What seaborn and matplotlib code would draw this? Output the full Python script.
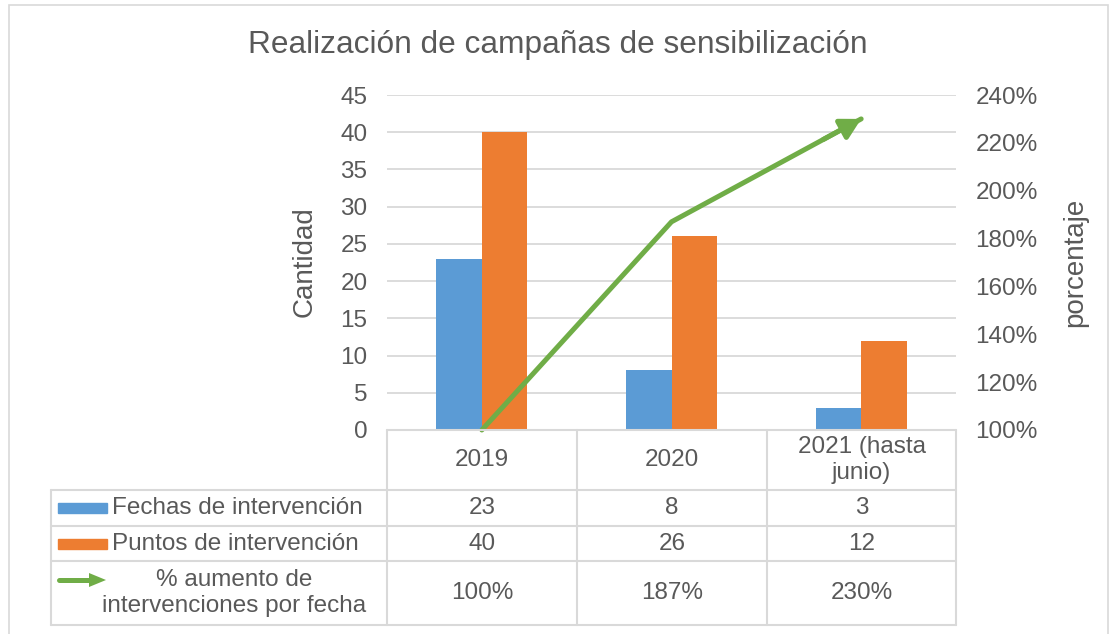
import matplotlib
matplotlib.use("Agg")
import matplotlib.pyplot as plt
from matplotlib.patches import Rectangle, FancyArrow
from matplotlib.lines import Line2D
import pandas as pd
import seaborn as sns

# data
years = ["2019", "2020", "2021 (hasta\njunio)"]
fechas = [23, 8, 3]
puntos = [40, 26, 12]
aumento = [100, 187, 230]
fechas_label = "Fechas de intervención"
puntos_label = "Puntos de intervención"
aumento_label = "% aumento de\nintervenciones por fecha"

BLUE = "#5B9BD5"
ORANGE = "#ED7D31"
GREEN = "#70AD47"
TXT = "#595959"
GRID = "#D9D9D9"
FS = 17.5

sns.set_theme(style="white")
plt.rcParams["font.family"] = ["Liberation Sans", "DejaVu Sans"]

W, H = 1110, 634
fig = plt.figure(figsize=(W / 100, H / 100), dpi=100)


def fx(x):
    return x / W


def fy(y):
    return 1 - y / H


# outer chart frame
fig.patches.append(Rectangle((fx(9), fy(640)), fx(1108) - fx(9), fy(5) - fy(640),
                             transform=fig.transFigure, fill=False,
                             edgecolor=GRID, lw=1.2))

ax = fig.add_axes([fx(387), fy(430), fx(956) - fx(387), fy(95) - fy(430)])

df = pd.DataFrame({
    "year": years * 2,
    "value": fechas + puntos,
    "serie": [fechas_label] * 3 + [puntos_label] * 3,
})
sns.barplot(data=df, x="year", y="value", hue="serie", ax=ax,
            palette=[BLUE, ORANGE], width=0.48, saturation=1,
            legend=False, linewidth=0, zorder=3)
ax.set_xlim(-0.5, 2.5)
ax.set_ylim(0, 45)
ax.set_yticks(range(0, 46, 5))
ax.set_xticks([])
ax.set_xlabel("")
ax.set_ylabel("")
ax.tick_params(axis="y", length=0, labelsize=FS, labelcolor=TXT, pad=14)
ax.grid(axis="y", color=GRID, lw=1.3, zorder=0)
ax.set_axisbelow(True)
for s in ax.spines.values():
    s.set_visible(False)

ax2 = ax.twinx()
line_df = pd.DataFrame({"x": [0, 1, 2], "pct": aumento})
sns.lineplot(data=line_df, x="x", y="pct", ax=ax2, color=GREEN, lw=3.6,
             clip_on=False, zorder=5)
ax2.annotate("", xy=(line_df["x"].iloc[-1], aumento[-1]),
             xytext=(line_df["x"].iloc[-2] + 0.8, aumento[-2] + (aumento[-1] - aumento[-2]) * 0.8),
             arrowprops=dict(arrowstyle="-|>,head_length=1.0,head_width=0.55",
                             color=GREEN, lw=3.6, shrinkA=0, shrinkB=0))
ax2.set_ylim(100, 240)
ax2.set_yticks(range(100, 241, 20))
ax2.set_yticklabels([f"{v}%" for v in range(100, 241, 20)])
ax2.set_xlim(-0.5, 2.5)
ax2.set_xticks([])
ax2.set_xlabel("")
ax2.set_ylabel("")
ax2.tick_params(axis="y", length=0, labelsize=FS, labelcolor=TXT, pad=14)
ax2.grid(False)
for s in ax2.spines.values():
    s.set_visible(False)

fig.text(fx(305), fy(262), "Cantidad", rotation=90, ha="center", va="center",
         fontsize=20, color=TXT)
fig.text(fx(1075), fy(262), "porcentaje", rotation=90, ha="center", va="center",
         fontsize=20, color=TXT)
fig.text(fx(558), fy(45), "Realización de campañas de sensibilización",
         ha="center", va="center", fontsize=22.8, color=TXT)

# data table
cols = [387, 577, 767, 956]
rows = [430, 490, 526, 561, 625]


def hline(y, x0, x1):
    fig.add_artist(Line2D([fx(x0), fx(x1)], [fy(y), fy(y)],
                          transform=fig.transFigure, color=GRID, lw=1.5))


def vline(x, y0, y1):
    fig.add_artist(Line2D([fx(x), fx(x)], [fy(y0), fy(y1)],
                          transform=fig.transFigure, color=GRID, lw=1.5))


hline(rows[0], cols[0], cols[-1])
for y in rows[1:]:
    hline(y, 51, cols[-1])
for x in cols:
    vline(x, rows[0], rows[-1])
vline(51, rows[1], rows[-1])

centers = [(cols[i] + cols[i + 1]) / 2 for i in range(3)]
table_rows = [
    [str(v) for v in fechas],
    [str(v) for v in puntos],
    [f"{v}%" for v in aumento],
]
for cx, yr in zip(centers, years):
    fig.text(fx(cx), fy((rows[0] + rows[1]) / 2), yr, ha="center", va="center",
             fontsize=FS, color=TXT, linespacing=1.2)
for r, vals in enumerate(table_rows):
    cy = (rows[r + 1] + rows[r + 2]) / 2
    for cx, v in zip(centers, vals):
        fig.text(fx(cx), fy(cy), v, ha="center", va="center", fontsize=FS, color=TXT)

# row headers with legend keys
cy1 = (rows[1] + rows[2]) / 2
cy2 = (rows[2] + rows[3]) / 2
cy3 = (rows[3] + rows[4]) / 2
fig.patches.append(Rectangle((fx(58), fy(cy1 + 5)), fx(107) - fx(58), fy(cy1 - 5) - fy(cy1 + 5),
                             transform=fig.transFigure, color=BLUE))
fig.patches.append(Rectangle((fx(58), fy(cy2 + 5)), fx(107) - fx(58), fy(cy2 - 5) - fy(cy2 + 5),
                             transform=fig.transFigure, color=ORANGE))
fig.text(fx(112), fy(cy1), fechas_label, ha="left", va="center", fontsize=FS, color=TXT)
fig.text(fx(112), fy(cy2), puntos_label, ha="left", va="center", fontsize=FS, color=TXT)
fig.add_artist(Line2D([fx(59), fx(92)], [fy(cy3 - 13), fy(cy3 - 13)],
                      transform=fig.transFigure, color=GREEN, lw=3.6,
                      solid_capstyle="round"))
fig.patches.append(FancyArrow(fx(90), fy(cy3 - 13), fx(16), 0, width=0,
                              head_width=14 / H, head_length=fx(17),
                              length_includes_head=True, transform=fig.transFigure,
                              color=GREEN, lw=0))
fig.text(fx(234), fy(cy3), aumento_label, ha="center", va="center",
         fontsize=FS, color=TXT, linespacing=1.2)

fig.savefig("out.png", dpi=100)
